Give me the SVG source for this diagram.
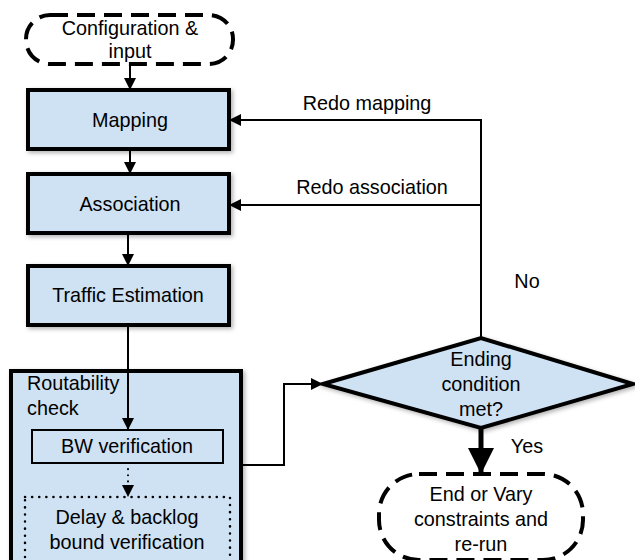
<svg xmlns="http://www.w3.org/2000/svg" width="635" height="560" viewBox="0 0 635 560">
<style>
text{font-family:"Liberation Sans",Arial,sans-serif;font-size:19.8px;fill:#000;text-anchor:middle}
.box{fill:#cfe2f3;stroke:#000;stroke-width:4}
.conn{fill:none;stroke:#000;stroke-width:2}
.lbl{text-anchor:start}
</style>
<defs>
<marker id="arr" viewBox="0 0 10 10" refX="10" refY="5" markerWidth="14" markerHeight="12" markerUnits="userSpaceOnUse" orient="auto">
<path d="M0,0 L10,5 L0,10 z" fill="#000"/>
</marker>
<marker id="big" viewBox="0 0 10 10" refX="10" refY="5" markerWidth="32" markerHeight="26" markerUnits="userSpaceOnUse" orient="auto">
<path d="M0,0 L10,5 L0,10 z" fill="#000"/>
</marker>
<filter id="sh" x="-10%" y="-10%" width="130%" height="130%">
<feDropShadow dx="2" dy="2" stdDeviation="2" flood-color="#000" flood-opacity="0.3"/>
</filter>
</defs>

<g id="config">
<rect x="26" y="15" width="207" height="49" rx="24" fill="#fff" stroke="#000" stroke-width="4" stroke-dasharray="18,9"/>
<text x="130" y="35">Configuration &amp;</text>
<text x="130" y="58">input</text>
</g>

<g id="mapping">
<rect class="box" x="28" y="90" width="201" height="59" filter="url(#sh)"/>
<text x="130" y="127">Mapping</text>
</g>

<g id="association">
<rect class="box" x="28" y="174" width="201" height="59" filter="url(#sh)"/>
<text x="130" y="211">Association</text>
</g>

<g id="traffic">
<rect class="box" x="28" y="266" width="201" height="59" filter="url(#sh)"/>
<text x="128" y="302">Traffic Estimation</text>
</g>

<g id="routability">
<rect class="box" x="11" y="371" width="230" height="200" filter="url(#sh)"/>
<text class="lbl" x="27" y="390">Routability</text>
<text class="lbl" x="27" y="415">check</text>
</g>

<g id="bw">
<rect x="32" y="430" width="191" height="33" fill="#cfe2f3" stroke="#000" stroke-width="2"/>
<text x="127" y="453">BW verification</text>
</g>

<g id="delay">
<rect x="25" y="497" width="205" height="70" fill="#cfe2f3" stroke="#000" stroke-width="2.5" stroke-dasharray="0.1,7" stroke-linecap="round"/>
<text x="127" y="524">Delay &amp; backlog</text>
<text x="127" y="549">bound verification</text>
</g>

<g id="decision">
<polygon points="323,384 481,338 633,384 481,428" fill="#cfe2f3" stroke="#000" stroke-width="4" stroke-linejoin="miter" filter="url(#sh)"/>
<text x="481" y="366">Ending</text>
<text x="481" y="391">condition</text>
<text x="481" y="416">met?</text>
</g>

<g id="end">
<rect x="379" y="474" width="204" height="86" rx="40" fill="#fff" stroke="#000" stroke-width="4" stroke-dasharray="18,9"/>
<text x="481" y="501">End or Vary</text>
<text x="481" y="526">constraints and</text>
<text x="481" y="551">re-run</text>
</g>

<g id="connectors">
<line class="conn" x1="130" y1="64" x2="130" y2="90" marker-end="url(#arr)"/>
<line class="conn" x1="130" y1="149" x2="130" y2="174" marker-end="url(#arr)"/>
<line class="conn" x1="128" y1="233" x2="128" y2="266" marker-end="url(#arr)"/>
<line class="conn" x1="128" y1="325" x2="128" y2="430" marker-end="url(#arr)"/>
<line class="conn" x1="128" y1="463" x2="128" y2="497" stroke-dasharray="0.1,6" stroke-linecap="round" stroke-width="2.5" marker-end="url(#arr)"/>
<polyline class="conn" points="241,465 284,465 284,384 323,384" marker-end="url(#arr)"/>
<polyline class="conn" points="481,338 481,120 229,120" marker-end="url(#arr)"/>
<polyline class="conn" points="481,205 229,205" marker-end="url(#arr)"/>
<line x1="481" y1="428" x2="481" y2="474" stroke="#000" stroke-width="5" marker-end="url(#big)"/>
<text x="367" y="110">Redo mapping</text>
<text x="372" y="194">Redo association</text>
<text x="527" y="288">No</text>
<text x="527" y="453">Yes</text>
</g>
</svg>
